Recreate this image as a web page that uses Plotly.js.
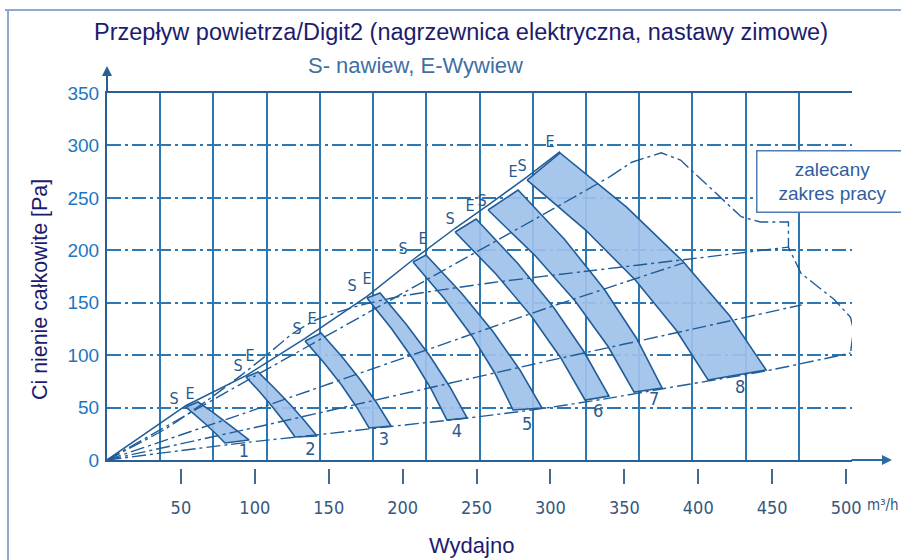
<!DOCTYPE html>
<html>
<head>
<meta charset="utf-8">
<script src="https://cdn.plot.ly/plotly-3.0.1.min.js"></script>
<style>html,body{margin:0;padding:0;background:#fff;}#chart{width:901px;height:560px;}</style>
</head>
<body>
<div id="chart"></div>
<script>
// ---- data (flow m3/h, total pressure Pa) ----
const xTicks = [50, 100, 150, 200, 250, 300, 350, 400, 450, 500];
const yTicks = [0, 50, 100, 150, 200, 250, 300, 350];
const speedLabels = ["1", "2", "3", "4", "5", "6", "7", "8"];

// S edge (left) and E edge (right) of each speed band, read top -> bottom
const band1S_x = [53.5, 60.6, 67.4, 73.8, 79.8],      band1S_y = [50.5, 41.9, 33.4, 24.8, 16.2];
const band1E_x = [61.6, 70.8, 79.6, 88.0, 96.1],      band1E_y = [55.3, 46.3, 37.2, 28.1, 19.1];
const band2S_x = [94.0, 103.4, 112.0, 120.0, 127.2],  band2S_y = [79.2, 64.9, 50.6, 36.2, 21.9];
const band2E_x = [102.2, 113.2, 123.6, 133.2, 142.1], band2E_y = [83.9, 68.7, 53.4, 38.2, 22.9];
const band3S_x = [134.0, 146.8, 158.4, 168.5, 177.3], band3S_y = [113.5, 92.8, 72.0, 51.3, 30.5];
const band3E_x = [144.8, 158.7, 171.2, 182.4, 192.2], band3E_y = [121.1, 98.9, 76.8, 54.6, 32.4];
const band4S_x = [175.9, 192.4, 207.0, 219.5, 230.0], band4S_y = [154.5, 125.4, 96.3, 67.2, 38.1];
const band4E_x = [184.7, 202.4, 218.2, 231.9, 243.6], band4E_y = [159.3, 129.5, 99.7, 69.9, 40.1];
const band5S_x = [207.0, 228.4, 246.9, 262.3, 274.7], band5S_y = [188.8, 153.5, 118.3, 83.0, 47.7];
const band5E_x = [215.8, 239.9, 261.1, 279.2, 294.3], band5E_y = [195.5, 159.0, 122.6, 86.1, 49.6];
const band6S_x = [235.5, 263.1, 287.0, 307.0, 323.4], band6S_y = [217.4, 177.4, 137.3, 97.3, 57.2];
const band6E_x = [249.7, 277.8, 302.2, 322.7, 339.6], band6E_y = [229.8, 187.6, 145.4, 103.2, 61.0];
const band7S_x = [257.8, 289.6, 316.7, 339.0, 356.6], band7S_y = [238.4, 195.0, 151.6, 108.2, 64.8];
const band7E_x = [278.1, 309.6, 336.3, 358.3, 375.5], band7E_y = [257.5, 210.3, 163.1, 115.9, 68.7];
const band8S_x = [284.2, 323.8, 357.4, 385.0, 406.6], band8S_y = [267.0, 219.3, 171.7, 124.0, 76.3];
const band8E_x = [306.5, 351.5, 389.7, 421.2, 445.9], band8E_y = [292.8, 241.1, 189.3, 137.6, 85.8];

// speed number label positions
const speedLab_x = [92.7, 137.6, 187.4, 236.8, 284.2, 332.2, 370.1, 428.3];
const speedLab_y = [7.0, 9.0, 18.5, 26.0, 33.0, 45.0, 56.5, 68.0];

// S / E labels at top of the bands
const seText = ["S","E","S","E","S","E","S","E","S","E","S","E","S","E","S","E"];
const se_x = [45.3, 56.2, 88.6, 96.8, 128.6, 138.7, 165.8, 175.9, 200.3, 213.8, 232.1, 245.6, 253.7, 274.7, 280.8, 299.7];
const se_y = [57.2, 62.0, 88.7, 98.2, 124.0, 133.5, 165.0, 171.7, 200.3, 209.8, 228.9, 241.3, 246.0, 273.7, 279.4, 302.3];

// top envelope line (solid)
const topLine_x = [0, 53.5, 94.0, 134.0, 175.9, 207.0, 235.5, 257.8, 284.2, 306.5];
const topLine_y = [0, 52.0, 80.5, 116.0, 156.0, 191.0, 221.0, 243.0, 270.0, 294.0];

// system lines (dash-dot)
const sysA_x = [0, 96, 142, 192, 244, 294, 340, 376, 446, 503];
const sysA_y = [0, 17, 24, 32, 40, 49, 59, 68, 85, 102];
const sysB_x = [0, 100, 200, 300, 400, 470];
const sysB_y = [0, 31, 63, 95, 126, 148];
const sysC_x = [0, 100, 200, 300, 390];
const sysC_y = [0, 48, 97, 146, 188];
const sysD_x = [0, 100, 200, 300, 340];
const sysD_y = [0, 80, 159, 238, 270];
// upper arc bending over and running into the range boundary step
const arc_x = [0, 40, 68, 90, 108, 125, 142, 170, 198, 260, 330, 390, 461];
const arc_y = [0, 30, 57, 80, 100, 120, 134, 147, 156, 169, 181, 191, 203];

// recommended working range boundary (dash-dot)
const range_x = [340, 355, 375, 388, 429, 442, 461, 461, 469.5, 492, 503, 505, 503];
const range_y = [270, 284, 293, 286, 232, 227, 227, 203, 178, 153, 136, 124, 102];

// ---- styling ----
const gridCol = '#2c78b2';
const lineCol = '#1f5c98';
const bandFill = 'rgba(160,193,234,0.92)';
const dd = '14px,4px,3px,4px';
const narrow = 'DejaVu Sans Condensed, sans-serif';

const bandsS = [[band1S_x,band1S_y],[band2S_x,band2S_y],[band3S_x,band3S_y],[band4S_x,band4S_y],
                [band5S_x,band5S_y],[band6S_x,band6S_y],[band7S_x,band7S_y],[band8S_x,band8S_y]];
const bandsE = [[band1E_x,band1E_y],[band2E_x,band2E_y],[band3E_x,band3E_y],[band4E_x,band4E_y],
                [band5E_x,band5E_y],[band6E_x,band6E_y],[band7E_x,band7E_y],[band8E_x,band8E_y]];

const traces = [];
function sysLine(x, y, dash, w, shape) {
  traces.push({x: x, y: y, type: 'scatter', mode: 'lines', hoverinfo: 'skip', showlegend: false,
    line: {color: lineCol, width: w || 1.4, dash: dash, shape: shape || 'spline', smoothing: 0.6}});
}
// bands: closed outline S(top->bottom) then E(bottom->top)
for (let i = 0; i < bandsS.length; i++) {
  const sx = bandsS[i][0], sy = bandsS[i][1], ex = bandsE[i][0], ey = bandsE[i][1];
  const px = sx.concat(ex.slice().reverse(), [sx[0]]);
  const py = sy.concat(ey.slice().reverse(), [sy[0]]);
  traces.push({x: px, y: py, type: 'scatter', mode: 'lines', hoverinfo: 'skip', showlegend: false,
    fill: 'toself', fillcolor: bandFill,
    line: {color: lineCol, width: 1.6, shape: 'linear'}});
}
sysLine(sysA_x, sysA_y, dd);
sysLine(sysB_x, sysB_y, dd);
sysLine(sysC_x, sysC_y, dd);
sysLine(sysD_x, sysD_y, dd);
sysLine(arc_x, arc_y, dd);
sysLine(topLine_x, topLine_y, 'solid', 1.5, 'linear');
sysLine(range_x, range_y, dd, 1.4, 'linear');

traces.push({x: speedLab_x, y: speedLab_y, text: speedLabels, type: 'scatter', mode: 'text',
  hoverinfo: 'skip', showlegend: false, cliponaxis: false,
  textfont: {family: narrow, size: 18, color: '#2a5a8c'}});
traces.push({x: se_x, y: se_y, text: seText, type: 'scatter', mode: 'text',
  hoverinfo: 'skip', showlegend: false, cliponaxis: false,
  textfont: {family: narrow, size: 16, color: '#2a5a8c'}});
// dummy trace on bottom tick axis
traces.push({x: [0], y: [0], xaxis: 'x2', type: 'scatter', mode: 'none', hoverinfo: 'skip', showlegend: false});

const plotBottomFrac = (520 - 460) / 427;

const layout = {
  width: 901, height: 560,
  margin: {l: 107, r: 49, t: 93, b: 40},
  paper_bgcolor: '#ffffff', plot_bgcolor: '#ffffff',
  showlegend: false,
  title: {text: 'Przepływ powietrza/Digit2 (nagrzewnica elektryczna, nastawy zimowe)',
    x: 461 / 901, xref: 'container', xanchor: 'center', y: 1 - 32 / 560, yref: 'container', yanchor: 'middle',
    font: {family: 'Liberation Sans, Arial, sans-serif', size: 23.5, color: '#1c1c6e'}},
  xaxis: {range: [0, 504], tick0: 0, dtick: 36, showgrid: true, gridcolor: gridCol, gridwidth: 2,
    showticklabels: false, ticks: '', zeroline: false, showline: true, linecolor: '#2a5f95', linewidth: 2, mirror: true,
    fixedrange: true},
  xaxis2: {overlaying: 'x', anchor: 'free', position: (520 - 468) / 427, side: 'bottom',
    range: [0, 504], tickvals: xTicks, ticktext: xTicks.map(String), ticks: 'outside', ticklen: 15, tickwidth: 2,
    tickcolor: '#45698f', showline: false, showgrid: false, zeroline: false, ticklabelstandoff: 8,
    tickfont: {family: narrow, size: 18, color: '#35587c'},
    fixedrange: true},
  yaxis: {range: [0, 350], domain: [plotBottomFrac, 1], tickvals: yTicks, ticks: '', showgrid: true,
    gridcolor: gridCol, gridwidth: 2, griddash: dd, zeroline: false, showline: true, linecolor: '#2a5f95', linewidth: 2,
    tickfont: {family: 'Liberation Sans, Arial, sans-serif', size: 19, color: '#1d76c2'}, ticklabelstandoff: 2,
    fixedrange: true},
  annotations: [
    {text: 'S- nawiew, E-Wywiew', xref: 'paper', yref: 'paper', x: (415 - 107) / 745, y: (520 - 66) / 427,
     showarrow: false, xanchor: 'center', yanchor: 'middle',
     font: {family: 'Liberation Sans, Arial, sans-serif', size: 22, color: '#3f6fa3'}},
    {text: 'Ci nienie całkowite [Pa]', xref: 'paper', yref: 'paper', x: (40 - 107) / 745, y: (520 - 290) / 427,
     showarrow: false, textangle: -90, xanchor: 'center', yanchor: 'middle',
     font: {family: 'Liberation Sans, Arial, sans-serif', size: 21.4, color: '#1c1c6e'}},
    {text: 'Wydajno', xref: 'paper', yref: 'paper', x: (471 - 107) / 745, y: (520 - 545) / 427,
     showarrow: false, xanchor: 'center', yanchor: 'middle',
     font: {family: 'Liberation Sans, Arial, sans-serif', size: 22, color: '#1c1c6e'}},
    {text: 'm³/h', xref: 'paper', yref: 'paper', x: (865 - 107) / 745, y: (520 - 505) / 427,
     showarrow: false, xanchor: 'left', yanchor: 'middle',
     font: {family: narrow, size: 15, color: '#35587c'}},
    {text: 'zalecany<br>zakres pracy', xref: 'paper', yref: 'paper', x: (756 - 107) / 745, y: (520 - 181) / 427,
     showarrow: false, xanchor: 'left', yanchor: 'middle', width: 146, height: 56, align: 'center',
     bgcolor: '#ffffff', bordercolor: '#4f7db3', borderwidth: 1.5, borderpad: 2,
     font: {family: 'Liberation Sans, Arial, sans-serif', size: 19, color: '#2f5f9f'}},
    // axis arrows
    {text: '', xref: 'paper', yref: 'paper', x: (892 - 107) / 745, y: plotBottomFrac, ax: -42, ay: 0,
     showarrow: true, arrowhead: 2, arrowsize: 1, arrowwidth: 2, arrowcolor: '#2a6aa5'},
    {text: '', xref: 'paper', yref: 'paper', x: 0, y: (520 - 66) / 427, ax: 0, ay: 28,
     showarrow: true, arrowhead: 2, arrowsize: 1, arrowwidth: 2, arrowcolor: '#2a5f95'}
  ],
  shapes: [
    {type: 'line', xref: 'paper', yref: 'paper', x0: (5 - 107) / 745, x1: (901 - 107) / 745,
     y0: (520 - 10) / 427, y1: (520 - 10) / 427, line: {color: '#8eaacd', width: 2}},
    {type: 'line', xref: 'paper', yref: 'paper', x0: (8 - 107) / 745, x1: (8 - 107) / 745,
     y0: (520 - 10) / 427, y1: (520 - 562) / 427, line: {color: '#8eaacd', width: 2}}
  ]
};

Plotly.newPlot('chart', traces, layout, {staticPlot: true, displayModeBar: false});
</script>
</body>
</html>
